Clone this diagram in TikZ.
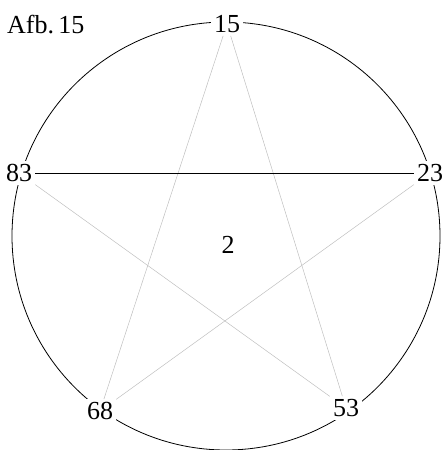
\documentclass[tikz,border=0pt]{standalone}
\usepackage{fontspec}
\setmainfont{Liberation Serif}
\begin{document}
\begin{tikzpicture}[
	x=1pt, y=1pt,
	vertex/.style={ fill=white, inner sep=3pt, font=\fontsize{26}{26}\selectfont },
	edge/.style={ black!25!white, line width=0.5pt },
	edgek/.style={ black, line width=0.8pt }
]

\useasboundingbox (0,0) rectangle (443,450);

\draw[line width=0.8pt] (226,214) circle (214);

\begin{scope}
	\node[vertex] at (227,426) (v15) {15};
	\node[vertex] at (430,277) (v23) {23};
	\node[vertex] at (346,42) (v53) {53};
	\node[vertex] at (100,39) (v68) {68};
	\node[vertex] at (19,277) (v83) {83};
	\draw[edge] (v15) to (v68);
	\draw[edge] (v15) to (v53);
	\draw[edge] (v83) to (v53);
	\draw[edge] (v23) to (v68);
	\draw[edgek] (v83) to (v23);
\end{scope}

\node[font=\fontsize{26}{26}\selectfont] at (228,205) (mid) {2};
\node[anchor=west, inner sep=0pt, font=\fontsize{26}{26}\selectfont] at (7,425) (afb) {Afb.\,15};

\end{tikzpicture}
\end{document}
